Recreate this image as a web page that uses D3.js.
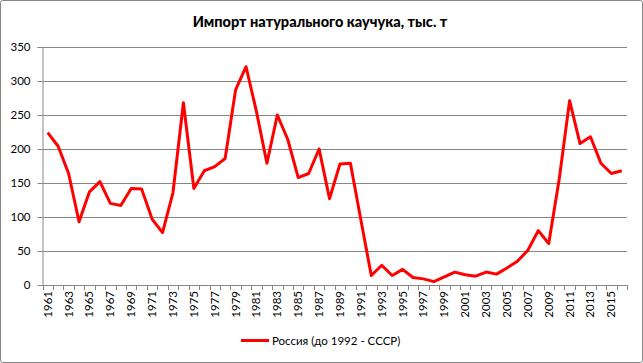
<!DOCTYPE html>
<html><head><meta charset="utf-8">
<script src="https://cdn.jsdelivr.net/npm/d3@7"></script>
<style>html,body{margin:0;padding:0;background:#fff}svg{display:block}</style>
</head><body>
<script>
const years = d3.range(1961, 2017);
const values = [224,204,164,93,137,152,120,117,142,141,97,77,136,268,142,168,174,186,287,321,
  255,179,250,214,158,164,200,127,178,179,96,14,29,14,23,11,9,5,12,19,
  15,13,19,16,25,35,51,80,61,155,271,208,218,179,164,168];
const yTicks = [0,50,100,150,200,250,300,350];
const title = "Импорт натурального каучука, тыс. т";
const seriesName = "Россия (до 1992 - СССР)";

(function(){
const W = 643, H = 363;
const font = "Lato, 'Open Sans', sans-serif";
const svg = d3.select("body").append("svg").attr("width", W).attr("height", H);
svg.append("rect").attr("x",0.5).attr("y",0.5).attr("width",W-1).attr("height",H-1)
  .attr("fill","#fff").attr("stroke","#868686").attr("rx",2);

const pL = 42.5, pR = 627, pT = 47, pB = 285;
const x = d3.scaleBand().domain(years).range([pL, pR]);
const y = d3.scaleLinear().domain([0, 350]).range([pB, pT]);

svg.append("text").attr("x", 320).attr("y", 27).attr("text-anchor","middle")
  .attr("font-family", font).attr("font-weight","900").attr("font-size",14.5).text(title);

svg.append("g").selectAll("line").data(yTicks.filter(d=>d>0)).join("line")
  .attr("x1", pL).attr("x2", pR)
  .attr("y1", d=>Math.round(y(d))+0.5).attr("y2", d=>Math.round(y(d))+0.5)
  .attr("stroke","#868686").attr("stroke-width",1);

const ya = svg.append("g").attr("transform",`translate(${pL},0)`)
  .call(d3.axisLeft(y).tickValues(yTicks).tickSize(5).tickPadding(7));
ya.selectAll("path,line").attr("stroke","#868686");
ya.selectAll("text").attr("font-family",font).attr("font-size",11.5).attr("fill","#000");
ya.selectAll(".tick").attr("transform", d=>`translate(0,${Math.round(y(d))+0.5})`);

svg.append("line").attr("x1",pL).attr("x2",pR).attr("y1",pB+0.5).attr("y2",pB+0.5)
  .attr("stroke","#868686");
const tickPos = years.map(d=>x(d)).concat([pR]);
svg.append("g").selectAll("line").data(tickPos).join("line")
  .attr("x1",d=>Math.round(d)+0.5).attr("x2",d=>Math.round(d)+0.5)
  .attr("y1",pB).attr("y2",pB+5).attr("stroke","#868686");
svg.append("g").selectAll("text").data(years.filter((d,i)=>i%2===0)).join("text")
  .attr("transform", d=>`translate(${x(d)+x.bandwidth()/2+4},${pB+6}) rotate(-90)`)
  .attr("text-anchor","end").attr("font-family",font).attr("font-size",11.5).text(d=>d);

const line = d3.line().x((d,i)=>x(years[i])+x.bandwidth()/2).y(d=>y(d));
svg.append("path").datum(values).attr("d",line).attr("fill","none")
  .attr("stroke","#ff0000").attr("stroke-width",3).attr("stroke-linejoin","round");

svg.append("line").attr("x1",241).attr("x2",269).attr("y1",340.5).attr("y2",340.5)
  .attr("stroke","#ff0000").attr("stroke-width",3);
svg.append("text").attr("x",272).attr("y",345).attr("font-family",font).attr("font-size",11.5)
  .text(seriesName);
})();
</script>
</body></html>
